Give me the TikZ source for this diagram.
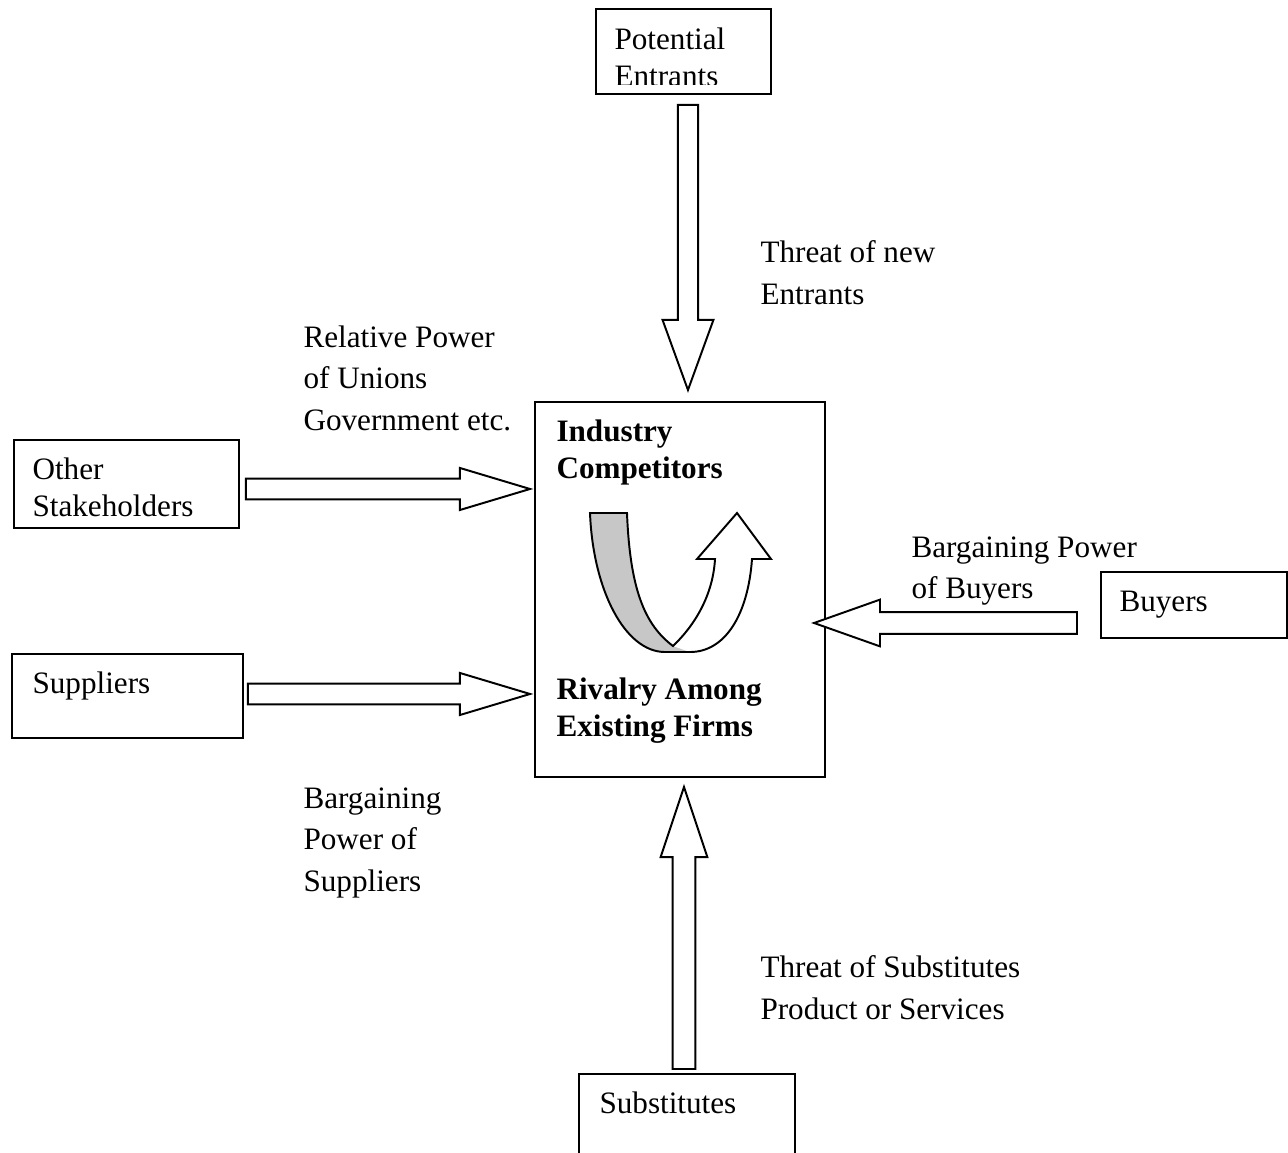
\documentclass[tikz,border=0pt]{standalone}
\usepackage{fontspec}
\setmainfont{Liberation Serif}
\usetikzlibrary{calc}
\newcommand{\pxl}{0.385pt}
\tikzset{
  box/.style={rectangle, draw, line width=0.75pt, inner sep=0pt, anchor=north west},
  txt/.style={inner sep=0pt, anchor=north west, align=left, font=\fontsize{12}{16}\selectfont},
  boxtxt/.style={txt, font=\fontsize{12}{14.2}\selectfont},
  boldtxt/.style={txt, font=\fontsize{12}{14.2}\selectfont\bfseries},
  blockarrow/.style={draw, fill=white, line width=0.75pt, line join=miter},
}
% hollow block arrow: start, tip, shaft half width, head half width, head length
\newcommand{\fatarrow}[5]{%
  \coordinate (hb) at ($(#2)!#5!(#1)$);
  \draw[blockarrow] ($(#1)!#3!90:(#2)$) -- ($(hb)!#3!-90:(#1)$) -- ($(hb)!#4!-90:(#1)$)
    -- (#2) -- ($(hb)!#4!90:(#1)$) -- ($(hb)!#3!90:(#1)$) -- ($(#1)!#3!-90:(#2)$) -- cycle;
}
\newcommand{\ribbon}{(627,513) -- (590,513) .. controls (593,590) and (625,652) .. (665,652)
  -- (690,652) .. controls (725,652) and (748,615) .. (752,559) -- (771,559) -- (737,513)
  -- (697,559) -- (715,559) .. controls (713,595) and (695,625) .. (673,646)
  .. controls (645,625) and (630,590) .. (627,513) -- cycle}

\begin{document}
\begin{tikzpicture}[x=\pxl, y=-\pxl]
  \clip (0,0) rectangle (1288,1152);

  % boxes
  \node[box, minimum width=175*\pxl, minimum height=85*\pxl] (entrants) at (595,8) {};
  \node[box, minimum width=290*\pxl, minimum height=375*\pxl] (firms) at (534,401) {};
  \node[box, minimum width=225*\pxl, minimum height=88*\pxl] (others) at (13,439) {};
  \node[box, minimum width=231*\pxl, minimum height=84*\pxl] (suppliers) at (11,653) {};
  \node[box, minimum width=186*\pxl, minimum height=66*\pxl] (buyers) at (1100,571) {};
  \node[box, minimum width=216*\pxl, minimum height=120*\pxl] (substitutes) at (578,1073) {};

  % box texts
  \begin{scope}
    \clip (597,10) rectangle (768,84);
    \node[boxtxt] (entrantstxt) at (614,27) {Potential\\Entrants};
  \end{scope}
  \node[boldtxt] (industry) at (556,419) {Industry\\Competitors};
  \node[boldtxt] (rivalry) at (556,677) {Rivalry Among\\Existing Firms};
  \node[boxtxt] (otherstxt) at (32,457) {Other\\Stakeholders};
  \node[boxtxt] (supplierstxt) at (32,671) {Suppliers};
  \node[boxtxt] (buyerstxt) at (1119,591) {Buyers};
  \node[boxtxt] (substitutestxt) at (599,1091) {Substitutes};

  % forces
  \node[txt] (newent) at (760,240) {Threat of new\\Entrants};
  \node[txt] (unions) at (303,325) {Relative Power\\of Unions\\Government etc.};
  \node[txt] (buypow) at (911,536) {Bargaining Power\\of Buyers};
  \node[txt] (suppow) at (303,787) {Bargaining\\Power of\\Suppliers};
  \node[txt] (subthreat) at (760,955) {Threat of Substitutes\\Product or Services};

  % arrow ends
  \coordinate (ent-a) at ($(entrants.south)+(4.5,10)$);
  \coordinate (ent-b) at (ent-a |- 0,390);
  \coordinate (oth-a) at ($(others.east)+(6,5)$);
  \coordinate (oth-b) at (oth-a -| 530,0);
  \coordinate (sup-a) at ($(suppliers.east)+(4,-2)$);
  \coordinate (sup-b) at (sup-a -| 530,0);
  \coordinate (buy-a) at ($(buyers.west)+(-23,18)$);
  \coordinate (buy-b) at (buy-a -| 814,0);
  \coordinate (sub-a) at ($(substitutes.north)+(-3,-4)$);
  \coordinate (sub-b) at (sub-a |- 0,787);

  \fatarrow{ent-a}{ent-b}{3.9pt}{9.8pt}{27pt}
  \fatarrow{oth-a}{oth-b}{4pt}{8.1pt}{27pt}
  \fatarrow{sup-a}{sup-b}{4pt}{8.1pt}{27pt}
  \fatarrow{buy-a}{buy-b}{4.2pt}{9pt}{25.4pt}
  \fatarrow{sub-a}{sub-b}{4.4pt}{9pt}{27pt}

  % rivalry ribbon
  \fill[black!22] \ribbon;
  \fill[white] (673,646) .. controls (695,625) and (713,595) .. (715,559) -- (697,559)
    -- (737,513) -- (771,559) -- (752,559) .. controls (748,615) and (725,652) .. (690,652) -- cycle;
  \draw[line width=0.75pt, line join=miter] \ribbon;
\end{tikzpicture}
\end{document}
